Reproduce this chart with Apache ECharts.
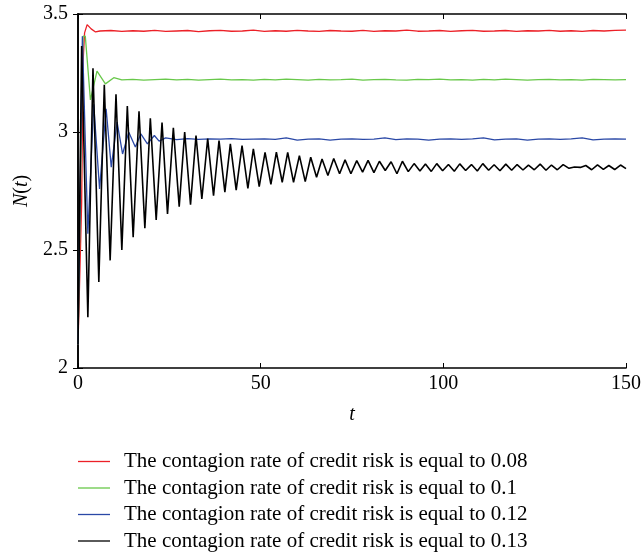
<!DOCTYPE html>
<html>
<head>
<meta charset="utf-8">
<script src="https://cdn.jsdelivr.net/npm/echarts@6/dist/echarts.min.js"></script>
<style>
  html, body { margin: 0; padding: 0; background: #fff; }
  #chart { width: 644px; height: 552px; }
</style>
</head>
<body>
<div id="chart"></div>
<script>
// Time axis ticks and value axis ticks
const xTicks = [0, 50, 100, 150];
const yTicks = [2, 2.5, 3, 3.5];

const seriesNames = [
  'The contagion rate of credit risk is equal to 0.08',
  'The contagion rate of credit risk is equal to 0.1',
  'The contagion rate of credit risk is equal to 0.12',
  'The contagion rate of credit risk is equal to 0.13'
];

// Rate 0.08
const redT = [0, 1.0, 1.4, 1.8, 2.5, 3.6, 4.8,
  6, 9, 12, 15, 18, 21, 24, 27, 30, 33, 36, 39, 42, 45, 48, 51, 54, 57, 60, 63, 66, 69, 72, 75,
  78, 81, 84, 87, 90, 93, 96, 99, 102, 105, 108, 111, 114, 117, 120, 123, 126, 129, 132, 135,
  138, 141, 144, 147, 150];
const redN = [2.10, 2.70, 3.30, 3.42, 3.455, 3.437, 3.424,
  3.428, 3.430, 3.426, 3.429, 3.427, 3.431, 3.426, 3.428, 3.430, 3.425,
  3.429, 3.431, 3.427, 3.428, 3.432, 3.426, 3.429, 3.427, 3.431, 3.428,
  3.426, 3.430, 3.428, 3.427, 3.431, 3.426, 3.429, 3.428, 3.432, 3.427,
  3.428, 3.430, 3.426, 3.429, 3.431, 3.427, 3.428, 3.430, 3.426, 3.429,
  3.428, 3.431, 3.427, 3.429, 3.426, 3.430, 3.428, 3.431, 3.432];

// Rate 0.1
const greenT = [0, 1.2, 1.4, 2.0, 3.4, 5.2, 7.5, 9.8,
  12, 15, 18, 21, 24, 27, 30, 33, 36, 39, 42, 45, 48, 51, 54, 57, 60, 63, 66, 69, 72, 75,
  78, 81, 84, 87, 90, 93, 96, 99, 102, 105, 108, 111, 114, 117, 120, 123, 126, 129, 132, 135,
  138, 141, 144, 147, 150];
const greenN = [2.10, 3.30, 3.406, 3.406, 3.136, 3.258, 3.204, 3.230,
  3.221, 3.223, 3.220, 3.222, 3.224, 3.221, 3.223, 3.220, 3.222, 3.224,
  3.221, 3.222, 3.220, 3.223, 3.221, 3.224, 3.222, 3.220, 3.223, 3.221,
  3.222, 3.224, 3.220, 3.222, 3.223, 3.221, 3.220, 3.223, 3.222, 3.224,
  3.221, 3.222, 3.220, 3.223, 3.221, 3.224, 3.222, 3.220, 3.222, 3.223,
  3.221, 3.222, 3.220, 3.223, 3.222, 3.221, 3.222];

// Rate 0.12
const blueT = [0, 1.0, 1.2, 1.5, 2.7, 4.3, 5.9, 7.7, 9.1, 10.7, 12.2, 13.9, 15.7, 17.2, 19.0, 20.9, 22.2,
  24, 27, 30, 33, 36, 39, 42, 45, 48, 51, 54, 57, 60, 63, 66, 69, 72, 75,
  78, 81, 84, 87, 90, 93, 96, 99, 102, 105, 108, 111, 114, 117, 120, 123, 126, 129, 132, 135,
  138, 141, 144, 147, 150];
const blueN = [2.10, 3.20, 3.406, 3.406, 2.569, 3.117, 2.759, 3.098, 2.851, 3.042, 2.907, 2.999, 2.936, 2.992, 2.950, 2.985, 2.961,
  2.975, 2.968, 2.972, 2.969, 2.971, 2.970, 2.972, 2.969, 2.970, 2.971,
  2.969, 2.975, 2.966, 2.970, 2.971, 2.966, 2.970, 2.971, 2.969, 2.970,
  2.975, 2.968, 2.971, 2.970, 2.966, 2.970, 2.971, 2.969, 2.971, 2.975,
  2.967, 2.970, 2.971, 2.966, 2.970, 2.971, 2.969, 2.971, 2.975, 2.967,
  2.970, 2.971, 2.970];

// Rate 0.13: starting value, then alternating crests and troughs
const blackStart = [0, 2.10];
const blackPeakT = [1.0, 4.1, 7.2, 10.4, 13.5, 16.7, 19.8, 23.0, 26.1, 29.2,
  32.3, 35.5, 38.6, 41.7, 44.9, 48.0, 51.2, 54.3, 57.4, 60.6,
  63.7, 66.8, 70.0, 73.1, 76.3, 79.4, 82.5, 85.7, 88.8, 92.0,
  95.1, 98.2, 101.4, 104.5, 107.7, 110.8, 113.9, 117.1, 120.2, 123.3,
  126.5, 129.6, 132.8, 135.9, 139.0, 142.2, 145.3, 148.5];
const blackPeakN = [3.364, 3.270, 3.200, 3.160, 3.110, 3.088, 3.058, 3.040, 3.018, 3.000,
  2.985, 2.972, 2.964, 2.950, 2.942, 2.929, 2.914, 2.915, 2.914, 2.900,
  2.893, 2.886, 2.888, 2.882, 2.879, 2.880, 2.876, 2.874, 2.876, 2.866,
  2.864, 2.866, 2.862, 2.865, 2.862, 2.866, 2.861, 2.864, 2.862, 2.860,
  2.864, 2.860, 2.862, 2.852, 2.858, 2.861, 2.858, 2.860];
const blackTroughT = [2.7, 5.7, 8.8, 12.0, 15.1, 18.3, 21.4, 24.5, 27.7, 30.8,
  33.9, 37.1, 40.2, 43.3, 46.5, 49.6, 52.8, 55.9, 59.0, 62.2,
  65.3, 68.4, 71.6, 74.7, 77.9, 81.0, 84.1, 87.3, 90.4, 93.6,
  96.7, 99.8, 103.0, 106.1, 109.3, 112.4, 115.5, 118.7, 121.8, 124.9,
  128.1, 131.2, 134.4, 137.5, 140.6, 143.8, 146.9, 150.0];
const blackTroughN = [2.215, 2.364, 2.456, 2.500, 2.554, 2.592, 2.627, 2.653, 2.683, 2.692,
  2.716, 2.730, 2.745, 2.754, 2.761, 2.769, 2.778, 2.787, 2.787, 2.790,
  2.808, 2.816, 2.823, 2.823, 2.830, 2.828, 2.837, 2.823, 2.832, 2.835,
  2.833, 2.836, 2.834, 2.837, 2.835, 2.838, 2.836, 2.838, 2.839, 2.840,
  2.838, 2.840, 2.846, 2.850, 2.840, 2.842, 2.841, 2.845];

const colors = ['#ec2027', '#68c84a', '#2a48a6', '#000000'];
const lineWidths = [1.3, 1.3, 1.3, 1.6];

function pairs(ts, vs) { return ts.map((t, i) => [t, vs[i]]); }

const blackData = [blackStart];
for (let i = 0; i < blackPeakT.length; i++) {
  blackData.push([blackPeakT[i], blackPeakN[i]]);
  blackData.push([blackTroughT[i], blackTroughN[i]]);
}

const serifFont = '"Liberation Serif", "Times New Roman", serif';

const chart = echarts.init(document.getElementById('chart'), null, { renderer: 'canvas' });

function lineSeries(idx, data) {
  return {
    name: seriesNames[idx], type: 'line', data: data,
    xAxisIndex: 0, yAxisIndex: 0,
    symbol: 'none', smooth: false, animation: false,
    lineStyle: { color: colors[idx], width: lineWidths[idx] },
    itemStyle: { color: colors[idx] },
    clip: true
  };
}

const axisLineStyle = { show: true, lineStyle: { color: '#000', width: 1.6 } };
const tickStyle = { show: true, inside: true, length: 5, lineStyle: { color: '#000', width: 1 } };

// Legend: one entry per row, a short coloured rule followed by the label
const legends = seriesNames.map((name, i) => ({
  orient: 'vertical', left: 78, top: 451 + i * 26.5, padding: 0,
  itemWidth: 32, itemHeight: 1.3, itemGap: 0,
  icon: 'rect',
  textStyle: { color: '#000', fontFamily: serifFont, fontSize: 21, lineHeight: 20, padding: [0, 0, 0, 9] },
  itemStyle: { color: colors[i], borderWidth: 0 },
  data: [name]
}));

chart.setOption({
  backgroundColor: '#ffffff',
  animation: false,
  grid: { left: 78, right: 16, top: 14, bottom: 184, containLabel: false },
  xAxis: [
    {
      type: 'value', min: xTicks[0], max: xTicks[xTicks.length - 1], interval: 50,
      position: 'bottom',
      axisLine: axisLineStyle, axisTick: tickStyle, splitLine: { show: false },
      axisLabel: { color: '#000', fontFamily: serifFont, fontSize: 20, margin: 6 },
      name: 't', nameLocation: 'middle', nameGap: 37,
      nameTextStyle: { color: '#000', fontFamily: serifFont, fontSize: 20, fontStyle: 'italic' }
    },
    {
      type: 'value', min: xTicks[0], max: xTicks[xTicks.length - 1], interval: 50,
      position: 'top',
      axisLine: axisLineStyle, axisTick: tickStyle, splitLine: { show: false },
      axisLabel: { show: false }
    }
  ],
  yAxis: [
    {
      type: 'value', min: yTicks[0], max: yTicks[yTicks.length - 1], interval: 0.5,
      position: 'left',
      axisLine: axisLineStyle, axisTick: tickStyle, splitLine: { show: false },
      axisLabel: { color: '#000', fontFamily: serifFont, fontSize: 20, margin: 10,
        formatter: v => String(v) },
      name: '{i|N}({i|t})', nameLocation: 'middle', nameGap: 46, nameRotate: 90,
      nameTextStyle: { color: '#000', fontFamily: serifFont, fontSize: 20,
        rich: { i: { fontStyle: 'italic', fontFamily: serifFont, fontSize: 20, color: '#000' } } }
    },
    {
      type: 'value', min: yTicks[0], max: yTicks[yTicks.length - 1], interval: 0.5,
      position: 'right',
      axisLine: axisLineStyle, axisTick: tickStyle, splitLine: { show: false },
      axisLabel: { show: false }
    }
  ],
  legend: legends,
  series: [
    lineSeries(0, pairs(redT, redN)),
    lineSeries(1, pairs(greenT, greenN)),
    lineSeries(2, pairs(blueT, blueN)),
    lineSeries(3, blackData)
  ]
});
</script>
</body>
</html>
